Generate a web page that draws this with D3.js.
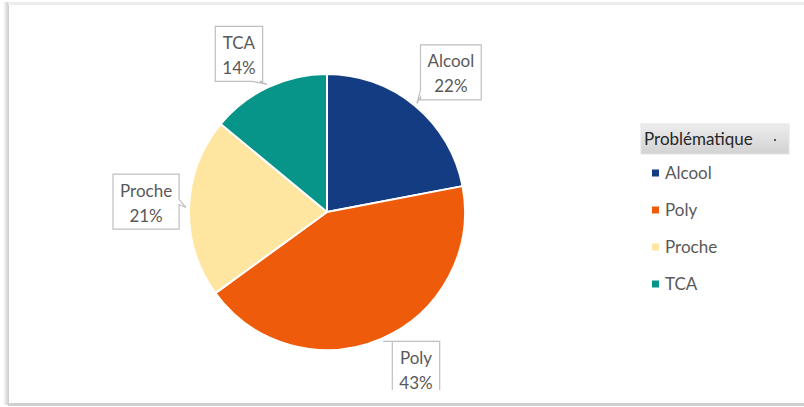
<!DOCTYPE html>
<html>
<head>
<meta charset="utf-8">
<script src="https://cdn.jsdelivr.net/npm/d3@7"></script>
<style>
  html, body { margin: 0; padding: 0; background: #ffffff; }
  svg { display: block; }
  text { font-family: Lato, "Open Sans", "Noto Sans", sans-serif; }
</style>
</head>
<body>
<svg id="chart" width="804" height="407"></svg>
<script>
// ---- data ----
const categories = ["Alcool", "Poly", "Proche", "TCA"];
const values = [22, 43, 21, 14];
const legendTitle = "Problématique";

// ---- style / layout ----
const colors = ["#143C82", "#EE5C0B", "#FFE6A0", "#079489"];
const W = 804, H = 407;
const cx = 327, cy = 212, R = 138;
// callout box offset (box centre relative to pointer tip) and wedge side
const callouts = [
  { dx: 34, dy: -31, side: "left" },
  { dx: 33, dy: 27.5, side: "top" },
  { dx: -40, dy: -6, side: "right" },
  { dx: -28, dy: -30.5, side: "bottom" }
];

const svg = d3.select("#chart");
const defs = svg.append("defs");

// frame with soft shadow
const lg = defs.append("linearGradient").attr("id", "leftShadow").attr("x1", 0).attr("x2", 1);
lg.append("stop").attr("offset", 0).attr("stop-color", "#ffffff");
lg.append("stop").attr("offset", 1).attr("stop-color", "#c9c9c9");
svg.append("rect").attr("x", 3).attr("y", 2).attr("width", 6).attr("height", 403).attr("fill", "url(#leftShadow)");
svg.append("rect").attr("x", 8).attr("y", 2).attr("width", W).attr("height", 3).attr("fill", "#ececec");
svg.append("rect").attr("x", 8).attr("y", 403).attr("width", W).attr("height", 3).attr("fill", "#cfcfcf");
svg.append("rect").attr("x", 9).attr("y", 5).attr("width", W).attr("height", 398).attr("fill", "#ffffff");

defs.append("clipPath").attr("id", "plotClip")
  .append("rect").attr("x", 9).attr("y", 5).attr("width", W).attr("height", 385);

// pie
const pie = d3.pie().sort(null).value(d => d)(values);
const arc = d3.arc().innerRadius(0).outerRadius(R);
const g = svg.append("g").attr("transform", `translate(${cx},${cy})`);
g.selectAll("path.slice").data(pie).join("path")
  .attr("class", "slice")
  .attr("d", arc)
  .attr("fill", (d, i) => colors[i])
  .attr("stroke", "#ffffff")
  .attr("stroke-width", 2)
  .attr("stroke-linejoin", "round");

// callout labels
const total = d3.sum(values);
const tipArc = d3.arc().innerRadius(R + 3).outerRadius(R + 3);
const lab = svg.append("g").attr("clip-path", "url(#plotClip)");
const fs = 17, lineGap = 25;

pie.forEach((d, i) => {
  const a = (d.startAngle + d.endAngle) / 2;
  const tx = cx + (R + 3) * Math.sin(a);
  const ty = cy - (R + 3) * Math.cos(a);
  const c = callouts[i];
  const bx = tx + c.dx, by = ty + c.dy;
  const grp = lab.append("g");
  const t1 = grp.append("text").attr("x", bx).attr("y", by - 5).attr("text-anchor", "middle")
    .attr("font-size", fs).attr("fill", "#595959").text(categories[i]);
  const pct = Math.round(values[i] / total * 100) + "%";
  const t2 = grp.append("text").attr("x", bx).attr("y", by + 20).attr("text-anchor", "middle")
    .attr("font-size", fs).attr("fill", "#595959").text(pct);
  const tw = Math.max(t1.node().getComputedTextLength(), t2.node().getComputedTextLength());
  const bw = tw + 14, bh = 55;
  const x0 = bx - bw / 2, x1 = bx + bw / 2, y0 = by - bh / 2, y1 = by + bh / 2;
  const clamp = (v, lo, hi) => Math.max(lo, Math.min(hi, v));
  let p;
  if (c.side === "left") {
    const b = clamp(ty, y0 + 10, y1 - 3);
    p = `M${x0},${y0}H${x1}V${y1}H${x0}V${b}L${tx},${ty}L${x0},${b - 7}Z`;
  } else if (c.side === "right") {
    const b = clamp(ty, y0 + 8, y1 - 3);
    p = `M${x0},${y0}H${x1}V${b - 8}L${tx},${ty}L${x1},${b - 3}V${y1}H${x0}Z`;
  } else if (c.side === "bottom") {
    const b = clamp(tx, x0 + 8, x1 - 3);
    p = `M${x0},${y0}H${x1}V${y1}H${b}L${tx},${ty}L${b - 7},${y1}H${x0}Z`;
  } else {
    const b = clamp(tx, x0 + 3, x1 - 8);
    p = `M${x0},${y0}H${b}L${tx},${ty}L${b + 7},${y0}H${x1}V${y1}H${x0}Z`;
  }
  grp.insert("path", "text").attr("d", p).attr("fill", "#ffffff")
    .attr("stroke", "#bfbfbf").attr("stroke-width", 1.2);
});

// legend
const hg = defs.append("linearGradient").attr("id", "hdr").attr("x1", 0).attr("x2", 0).attr("y1", 0).attr("y2", 1);
hg.append("stop").attr("offset", 0).attr("stop-color", "#ededed");
hg.append("stop").attr("offset", 1).attr("stop-color", "#d2d2d2");
const leg = svg.append("g");
leg.append("rect").attr("x", 641).attr("y", 124).attr("width", 148).attr("height", 30)
  .attr("fill", "url(#hdr)").attr("stroke", "#e4e4e4").attr("stroke-width", 1);
leg.append("text").attr("x", 644).attr("y", 145).attr("font-size", 17).attr("fill", "#262626").text(legendTitle);
leg.append("rect").attr("x", 774).attr("y", 139).attr("width", 2).attr("height", 2).attr("fill", "#555");

const ly = d3.scalePoint().domain(categories).range([173, 284]);
const items = leg.selectAll("g.item").data(categories).join("g").attr("class", "item");
items.append("rect").attr("x", 652).attr("y", d => ly(d) - 3.5).attr("width", 7).attr("height", 7)
  .attr("fill", (d, i) => colors[i]);
items.append("text").attr("x", 665).attr("y", d => ly(d) + 6).attr("font-size", 17)
  .attr("fill", "#595959").text(d => d);
</script>
</body>
</html>
